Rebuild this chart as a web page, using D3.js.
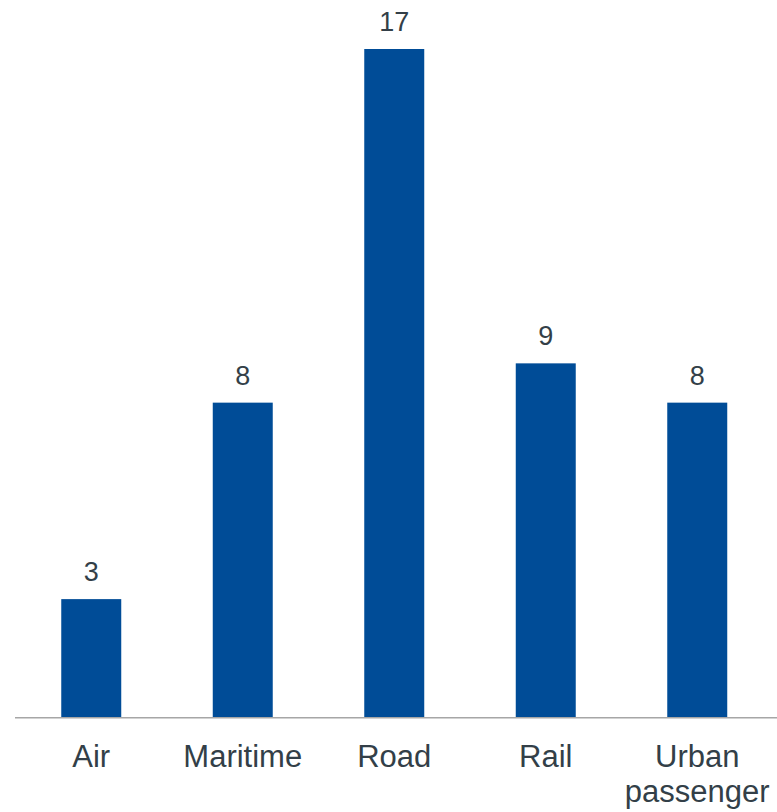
<!DOCTYPE html>
<html>
<head>
<meta charset="utf-8">
<script src="https://cdn.jsdelivr.net/npm/d3@7"></script>
<style>
  html, body { margin: 0; padding: 0; background: #ffffff; }
  svg { display: block; }
  text { font-family: "Liberation Sans", Arial, Helvetica, sans-serif; fill: #333f48; }
</style>
</head>
<body>
<svg id="chart" width="777" height="812"></svg>
<script>
// Transport modes and their counts
const categories = ["Air", "Maritime", "Road", "Rail", "Urban passenger"];
const values = [3, 8, 17, 9, 8];
// Category labels split over lines
const categoryLines = [["Air"], ["Maritime"], ["Road"], ["Rail"], ["Urban", "passenger"]];

const svg = d3.select("#chart");
const baseY = 717;

const x = d3.scaleBand()
  .domain(categories)
  .range([15.5, 773])
  .paddingInner(0.604)
  .paddingOuter(0.302);

const y = d3.scaleLinear()
  .domain([0, 17])
  .range([baseY, 49]);

// Bars
svg.append("g")
  .selectAll("rect")
  .data(categories)
  .join("rect")
  .attr("x", d => x(d))
  .attr("width", x.bandwidth())
  .attr("y", (d, i) => y(values[i]))
  .attr("height", (d, i) => y(0) - y(values[i]))
  .attr("fill", "#004c97");

// Baseline axis
svg.append("line")
  .attr("x1", 15).attr("x2", 777)
  .attr("y1", baseY + 0.75).attr("y2", baseY + 0.75)
  .attr("stroke", "#a6a6a6")
  .attr("stroke-width", 1.5);

// Value labels
svg.append("g")
  .selectAll("text")
  .data(categories)
  .join("text")
  .attr("x", d => x(d) + x.bandwidth() / 2)
  .attr("y", (d, i) => y(values[i]) - 18)
  .attr("text-anchor", "middle")
  .style("font-size", "27px")
  .text((d, i) => values[i]);

// Category labels
const cat = svg.append("g")
  .selectAll("text")
  .data(categories)
  .join("text")
  .attr("x", d => x(d) + x.bandwidth() / 2)
  .attr("y", 767)
  .attr("text-anchor", "middle")
  .style("font-size", "31px");

cat.each(function(d, i) {
  d3.select(this).selectAll("tspan")
    .data(categoryLines[i])
    .join("tspan")
    .attr("x", x(d) + x.bandwidth() / 2)
    .attr("dy", (l, j) => j === 0 ? 0 : 35)
    .text(l => l);
});
</script>
</body>
</html>
